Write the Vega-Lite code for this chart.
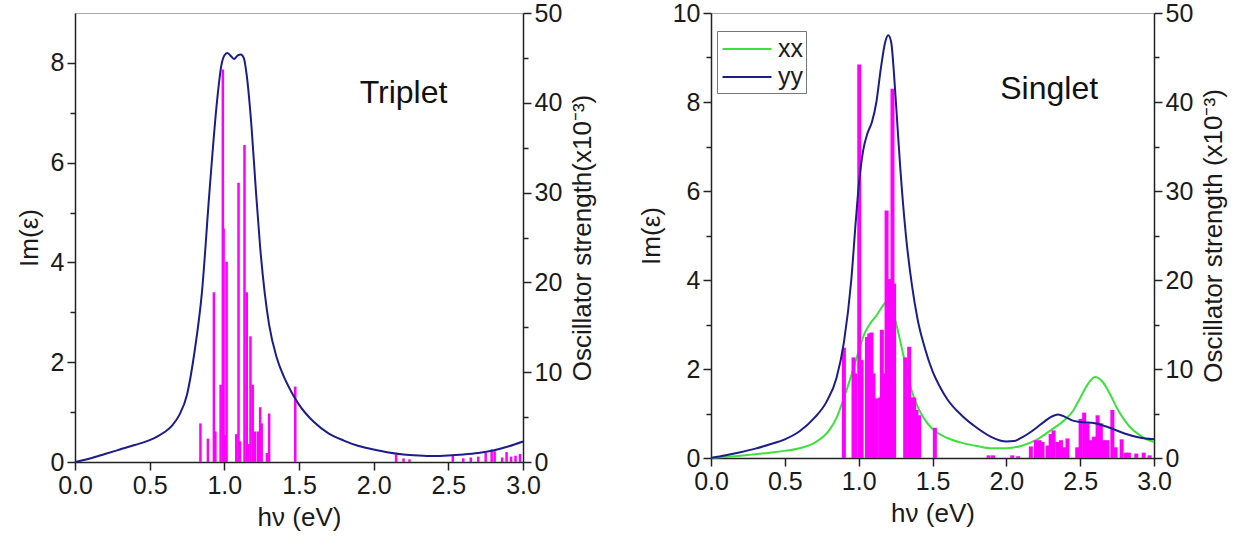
{
  "$schema": "https://vega.github.io/schema/vega-lite/v6.json",
  "background": "white",
  "padding": {"left": 15, "top": 0, "right": 5, "bottom": 5},
  "spacing": 40,
  "resolve": {"scale": {"color": "independent"}, "legend": {"color": "independent"}},
  "config": {
    "font": "Liberation Sans",
    "view": {"stroke": "#aaaaaa", "strokeWidth": 1},
    "axis": {
      "grid": false,
      "domainColor": "#222222",
      "domainWidth": 1.5,
      "tickColor": "#222222",
      "tickWidth": 1.5,
      "labelFont": "Liberation Sans",
      "labelFontSize": 25,
      "labelColor": "#1a1a1a",
      "labelPadding": 3,
      "titleFont": "Liberation Sans",
      "titleFontSize": 26,
      "titleFontWeight": "normal",
      "titleColor": "#1a1a1a"
    },
    "legend": {
      "orient": "none",
      "legendX": 6,
      "legendY": 18,
      "strokeColor": "#777777",
      "fillColor": "white",
      "padding": 3,
      "labelFont": "Liberation Sans",
      "labelFontSize": 25,
      "labelColor": "#1a1a1a",
      "symbolType": "M-1.75,0H1.75",
      "symbolStrokeWidth": 2,
      "symbolSize": 784,
      "symbolOffset": 12,
      "rowPadding": 0,
      "labelOffset": 16
    }
  },
  "datasets": {
    "trip_line": [
      {"e": 0.0, "im": 0.0}, {"e": 0.1, "im": 0.07}, {"e": 0.2, "im": 0.16}, {"e": 0.3, "im": 0.25},
      {"e": 0.4, "im": 0.34}, {"e": 0.5, "im": 0.44}, {"e": 0.55, "im": 0.51}, {"e": 0.6, "im": 0.6}, {"e": 0.65, "im": 0.73},
      {"e": 0.7, "im": 0.95}, {"e": 0.75, "im": 1.35}, {"e": 0.8, "im": 2.2}, {"e": 0.85, "im": 3.4},
      {"e": 0.9, "im": 5.4}, {"e": 0.95, "im": 7.2}, {"e": 0.98, "im": 7.95}, {"e": 1.0, "im": 8.15},
      {"e": 1.02, "im": 8.2}, {"e": 1.04, "im": 8.15}, {"e": 1.065, "im": 8.08}, {"e": 1.09, "im": 8.15},
      {"e": 1.11, "im": 8.17}, {"e": 1.13, "im": 8.1}, {"e": 1.15, "im": 7.75}, {"e": 1.18, "im": 6.8},
      {"e": 1.21, "im": 5.5}, {"e": 1.24, "im": 4.3}, {"e": 1.27, "im": 3.4}, {"e": 1.3, "im": 2.75},
      {"e": 1.35, "im": 2.1}, {"e": 1.4, "im": 1.7}, {"e": 1.45, "im": 1.4}, {"e": 1.5, "im": 1.15},
      {"e": 1.6, "im": 0.8}, {"e": 1.7, "im": 0.57}, {"e": 1.8, "im": 0.43}, {"e": 1.9, "im": 0.32},
      {"e": 2.0, "im": 0.25}, {"e": 2.1, "im": 0.19}, {"e": 2.2, "im": 0.15}, {"e": 2.3, "im": 0.13},
      {"e": 2.4, "im": 0.12}, {"e": 2.5, "im": 0.13}, {"e": 2.6, "im": 0.15}, {"e": 2.7, "im": 0.18},
      {"e": 2.8, "im": 0.23}, {"e": 2.9, "im": 0.31}, {"e": 3.0, "im": 0.41}
    ],
    "trip_bars": [
      {"e": 0.84, "f": 4.3}, {"e": 0.89, "f": 2.6}, {"e": 0.93, "f": 18.9}, {"e": 0.94, "f": 3.4},
      {"e": 0.975, "f": 8.6}, {"e": 0.99, "f": 43.7}, {"e": 0.995, "f": 26}, {"e": 1.005, "f": 3.0},
      {"e": 1.015, "f": 22.3}, {"e": 1.08, "f": 3.1}, {"e": 1.095, "f": 31.1}, {"e": 1.105, "f": 2.3},
      {"e": 1.135, "f": 35.3}, {"e": 1.15, "f": 18.9}, {"e": 1.16, "f": 2.0}, {"e": 1.175, "f": 14.0},
      {"e": 1.19, "f": 8.6}, {"e": 1.205, "f": 3.4}, {"e": 1.225, "f": 3.4}, {"e": 1.24, "f": 6.1},
      {"e": 1.25, "f": 4.3}, {"e": 1.285, "f": 1.0}, {"e": 1.3, "f": 5.4}, {"e": 1.475, "f": 8.4},
      {"e": 2.15, "f": 0.8}, {"e": 2.2, "f": 0.4}, {"e": 2.24, "f": 0.3}, {"e": 2.53, "f": 0.8},
      {"e": 2.6, "f": 0.4}, {"e": 2.65, "f": 0.5}, {"e": 2.7, "f": 0.6}, {"e": 2.75, "f": 1.0},
      {"e": 2.79, "f": 1.4}, {"e": 2.81, "f": 1.2}, {"e": 2.86, "f": 0.5}, {"e": 2.89, "f": 1.1},
      {"e": 2.92, "f": 0.6}, {"e": 2.95, "f": 0.7}, {"e": 2.98, "f": 0.9}
    ],
    "sing_xx": [
      {"e": 0.0, "im": 0.0, "s": "xx"}, {"e": 0.2, "im": 0.05, "s": "xx"}, {"e": 0.4, "im": 0.12, "s": "xx"},
      {"e": 0.5, "im": 0.16, "s": "xx"}, {"e": 0.6, "im": 0.22, "s": "xx"}, {"e": 0.7, "im": 0.34, "s": "xx"},
      {"e": 0.8, "im": 0.62, "s": "xx"}, {"e": 0.85, "im": 0.9, "s": "xx"}, {"e": 0.9, "im": 1.35, "s": "xx"},
      {"e": 0.95, "im": 1.85, "s": "xx"}, {"e": 1.0, "im": 2.4, "s": "xx"}, {"e": 1.04, "im": 2.8, "s": "xx"},
      {"e": 1.08, "im": 3.03, "s": "xx"}, {"e": 1.12, "im": 3.2, "s": "xx"}, {"e": 1.16, "im": 3.4, "s": "xx"},
      {"e": 1.2, "im": 3.55, "s": "xx"}, {"e": 1.24, "im": 3.2, "s": "xx"}, {"e": 1.28, "im": 2.65, "s": "xx"},
      {"e": 1.32, "im": 2.05, "s": "xx"}, {"e": 1.36, "im": 1.5, "s": "xx"}, {"e": 1.4, "im": 1.15, "s": "xx"},
      {"e": 1.45, "im": 0.85, "s": "xx"}, {"e": 1.5, "im": 0.65, "s": "xx"}, {"e": 1.6, "im": 0.45, "s": "xx"},
      {"e": 1.7, "im": 0.34, "s": "xx"}, {"e": 1.8, "im": 0.27, "s": "xx"}, {"e": 1.9, "im": 0.22, "s": "xx"},
      {"e": 2.0, "im": 0.22, "s": "xx"}, {"e": 2.1, "im": 0.27, "s": "xx"}, {"e": 2.2, "im": 0.4, "s": "xx"},
      {"e": 2.3, "im": 0.62, "s": "xx"}, {"e": 2.4, "im": 0.87, "s": "xx"}, {"e": 2.45, "im": 1.05, "s": "xx"},
      {"e": 2.5, "im": 1.35, "s": "xx"}, {"e": 2.55, "im": 1.65, "s": "xx"}, {"e": 2.6, "im": 1.82, "s": "xx"},
      {"e": 2.65, "im": 1.72, "s": "xx"}, {"e": 2.7, "im": 1.45, "s": "xx"}, {"e": 2.75, "im": 1.12, "s": "xx"},
      {"e": 2.8, "im": 0.85, "s": "xx"}, {"e": 2.85, "im": 0.65, "s": "xx"}, {"e": 2.9, "im": 0.52, "s": "xx"},
      {"e": 2.95, "im": 0.42, "s": "xx"}, {"e": 3.0, "im": 0.36, "s": "xx"}
    ],
    "sing_yy": [
      {"e": 0.0, "im": 0.0, "s": "yy"}, {"e": 0.1, "im": 0.06, "s": "yy"}, {"e": 0.2, "im": 0.13, "s": "yy"},
      {"e": 0.3, "im": 0.21, "s": "yy"}, {"e": 0.4, "im": 0.31, "s": "yy"}, {"e": 0.5, "im": 0.42, "s": "yy"},
      {"e": 0.6, "im": 0.6, "s": "yy"}, {"e": 0.7, "im": 0.9, "s": "yy"}, {"e": 0.78, "im": 1.25, "s": "yy"},
      {"e": 0.85, "im": 1.8, "s": "yy"}, {"e": 0.9, "im": 2.6, "s": "yy"}, {"e": 0.95, "im": 4.0, "s": "yy"},
      {"e": 0.98, "im": 5.3, "s": "yy"}, {"e": 1.0, "im": 6.1, "s": "yy"}, {"e": 1.03, "im": 6.9, "s": "yy"},
      {"e": 1.06, "im": 7.3, "s": "yy"}, {"e": 1.09, "im": 7.55, "s": "yy"}, {"e": 1.12, "im": 8.0, "s": "yy"},
      {"e": 1.15, "im": 8.75, "s": "yy"}, {"e": 1.18, "im": 9.35, "s": "yy"}, {"e": 1.2, "im": 9.5, "s": "yy"},
      {"e": 1.22, "im": 9.35, "s": "yy"}, {"e": 1.24, "im": 8.6, "s": "yy"}, {"e": 1.26, "im": 7.6, "s": "yy"},
      {"e": 1.28, "im": 6.6, "s": "yy"}, {"e": 1.32, "im": 5.0, "s": "yy"}, {"e": 1.36, "im": 3.9, "s": "yy"},
      {"e": 1.4, "im": 3.1, "s": "yy"}, {"e": 1.45, "im": 2.45, "s": "yy"}, {"e": 1.5, "im": 1.95, "s": "yy"},
      {"e": 1.55, "im": 1.6, "s": "yy"}, {"e": 1.6, "im": 1.32, "s": "yy"}, {"e": 1.7, "im": 0.95, "s": "yy"}, {"e": 1.8, "im": 0.68, "s": "yy"},
      {"e": 1.9, "im": 0.47, "s": "yy"}, {"e": 2.0, "im": 0.37, "s": "yy"}, {"e": 2.05, "im": 0.38, "s": "yy"},
      {"e": 2.1, "im": 0.45, "s": "yy"}, {"e": 2.15, "im": 0.55, "s": "yy"}, {"e": 2.2, "im": 0.67, "s": "yy"},
      {"e": 2.25, "im": 0.8, "s": "yy"}, {"e": 2.3, "im": 0.92, "s": "yy"}, {"e": 2.35, "im": 0.98, "s": "yy"},
      {"e": 2.4, "im": 0.92, "s": "yy"}, {"e": 2.45, "im": 0.84, "s": "yy"}, {"e": 2.5, "im": 0.81, "s": "yy"},
      {"e": 2.6, "im": 0.78, "s": "yy"}, {"e": 2.7, "im": 0.68, "s": "yy"}, {"e": 2.8, "im": 0.55, "s": "yy"},
      {"e": 2.9, "im": 0.46, "s": "yy"}, {"e": 3.0, "im": 0.42, "s": "yy"}
    ],
    "sing_bars": [
      {"e": 0.9, "f": 12.4}, {"e": 0.965, "f": 11.3}, {"e": 0.975, "f": 9.5}, {"e": 1.004, "f": 44.2},
      {"e": 1.02, "f": 11}, {"e": 1.056, "f": 13.6}, {"e": 1.072, "f": 14.0}, {"e": 1.087, "f": 14.1},
      {"e": 1.1, "f": 9.5}, {"e": 1.117, "f": 6.7}, {"e": 1.145, "f": 6.8}, {"e": 1.157, "f": 14.4},
      {"e": 1.17, "f": 9.5}, {"e": 1.189, "f": 27.8}, {"e": 1.205, "f": 20.1}, {"e": 1.218, "f": 20},
      {"e": 1.229, "f": 41.5}, {"e": 1.24, "f": 19.6}, {"e": 1.315, "f": 11.3}, {"e": 1.342, "f": 12.5},
      {"e": 1.358, "f": 6.8}, {"e": 1.376, "f": 6.8}, {"e": 1.392, "f": 5.4}, {"e": 1.41, "f": 4.8},
      {"e": 1.516, "f": 3.4}, {"e": 1.88, "f": 0.3}, {"e": 1.91, "f": 0.3}, {"e": 2.04, "f": 0.3},
      {"e": 2.08, "f": 0.2}, {"e": 2.166, "f": 1.3}, {"e": 2.2, "f": 2.0}, {"e": 2.225, "f": 2.0},
      {"e": 2.245, "f": 1.8}, {"e": 2.28, "f": 1.4}, {"e": 2.3, "f": 2.7}, {"e": 2.32, "f": 3.1},
      {"e": 2.346, "f": 1.8}, {"e": 2.37, "f": 2.0}, {"e": 2.39, "f": 1.2}, {"e": 2.414, "f": 2.2},
      {"e": 2.48, "f": 1.2}, {"e": 2.503, "f": 4.4}, {"e": 2.527, "f": 5.1}, {"e": 2.55, "f": 3.9},
      {"e": 2.572, "f": 2.0}, {"e": 2.594, "f": 2.4}, {"e": 2.618, "f": 4.8}, {"e": 2.64, "f": 3.9},
      {"e": 2.662, "f": 2.0}, {"e": 2.684, "f": 2.0}, {"e": 2.718, "f": 5.4}, {"e": 2.74, "f": 1.2},
      {"e": 2.781, "f": 2.1}, {"e": 2.81, "f": 0.6}, {"e": 2.83, "f": 0.6}, {"e": 2.88, "f": 0.5},
      {"e": 2.93, "f": 0.6}, {"e": 2.97, "f": 0.3}
    ]
  },
  "hconcat": [
    {
      "width": 448,
      "height": 449,
      "resolve": {"scale": {"y": "independent"}},
      "layer": [
        {
          "data": {"name": "trip_bars"},
          "mark": {"type": "rule", "color": "#ff00ff", "strokeWidth": 2.5},
          "encoding": {
            "x": {
              "field": "e", "type": "quantitative",
              "scale": {"domain": [0, 3], "nice": false},
              "axis": {
                "title": "hν (eV)",
                "values": [0, 0.25, 0.5, 0.75, 1, 1.25, 1.5, 1.75, 2, 2.25, 2.5, 2.75, 3],
                "labelExpr": "abs(datum.value*2 - round(datum.value*2)) < 0.01 ? format(datum.value, '.1f') : ''",
                "tickSize": {"condition": {"test": "abs(datum.value*2 - round(datum.value*2)) < 0.01", "value": 8}, "value": 5},
                "labelFlush": false,
                "titlePadding": 6
              }
            },
            "y": {
              "field": "f", "type": "quantitative",
              "scale": {"domain": [0, 50], "nice": false},
              "axis": {
                "title": "Oscillator strength(x10⁻³)",
                "orient": "right",
                "values": [0, 5, 10, 15, 20, 25, 30, 35, 40, 45, 50],
                "labelExpr": "datum.value % 10 === 0 ? datum.value : ''",
                "tickSize": {"condition": {"test": "datum.value % 10 === 0", "value": 8}, "value": 5},
                "titleAngle": 270,
                "titleBaseline": "top",
                "titlePadding": 8
              }
            },
            "y2": {"datum": 0}
          }
        },
        {
          "data": {"name": "trip_line"},
          "mark": {"type": "line", "color": "#1c1c8a", "strokeWidth": 2, "interpolate": "monotone"},
          "encoding": {
            "x": {"field": "e", "type": "quantitative"},
            "y": {
              "field": "im", "type": "quantitative",
              "scale": {"domain": [0, 9], "nice": false},
              "axis": {
                "title": "Im(ε)",
                "orient": "left",
                "values": [0, 1, 2, 3, 4, 5, 6, 7, 8],
                "labelExpr": "datum.value % 2 === 0 ? datum.value : ''",
                "tickSize": {"condition": {"test": "datum.value % 2 === 0", "value": 8}, "value": 5},
                "titlePadding": 8
              }
            }
          }
        },
        {
          "data": {"values": [{"e": 2.2, "im": 7.4, "t": "Triplet"}]},
          "mark": {"type": "text", "fontSize": 32, "font": "Liberation Sans", "color": "#111111"},
          "encoding": {
            "x": {"field": "e", "type": "quantitative"},
            "y": {"field": "im", "type": "quantitative", "scale": {"domain": [0, 9], "nice": false}, "axis": null},
            "text": {"field": "t"}
          }
        }
      ]
    },
    {
      "width": 443,
      "height": 445,
      "resolve": {"scale": {"y": "independent"}},
      "layer": [
        {
          "data": {"name": "sing_xx"},
          "mark": {"type": "line", "strokeWidth": 2, "interpolate": "monotone"},
          "encoding": {
            "x": {
              "field": "e", "type": "quantitative",
              "scale": {"domain": [0, 3], "nice": false},
              "axis": {
                "title": "hν (eV)",
                "values": [0, 0.25, 0.5, 0.75, 1, 1.25, 1.5, 1.75, 2, 2.25, 2.5, 2.75, 3],
                "labelExpr": "abs(datum.value*2 - round(datum.value*2)) < 0.01 ? format(datum.value, '.1f') : ''",
                "tickSize": {"condition": {"test": "abs(datum.value*2 - round(datum.value*2)) < 0.01", "value": 8}, "value": 5},
                "labelFlush": false,
                "titlePadding": 6
              }
            },
            "y": {
              "field": "im", "type": "quantitative",
              "scale": {"domain": [0, 10], "nice": false},
              "axis": {
                "title": "Im(ε)",
                "orient": "left",
                "values": [0, 1, 2, 3, 4, 5, 6, 7, 8, 9, 10],
                "labelExpr": "datum.value % 2 === 0 ? datum.value : ''",
                "tickSize": {"condition": {"test": "datum.value % 2 === 0", "value": 8}, "value": 5},
                "titlePadding": 8
              }
            },
            "color": {
              "field": "s", "type": "nominal",
              "scale": {"domain": ["xx", "yy"], "range": ["#3ee03e", "#1c1c8a"]},
              "legend": {"title": null}
            }
          }
        },
        {
          "data": {"name": "sing_bars"},
          "mark": {"type": "rule", "color": "#ff00ff", "strokeWidth": 4},
          "encoding": {
            "x": {"field": "e", "type": "quantitative"},
            "y": {
              "field": "f", "type": "quantitative",
              "scale": {"domain": [0, 50], "nice": false},
              "axis": {
                "title": "Oscillator strength (x10⁻³)",
                "orient": "right",
                "values": [0, 5, 10, 15, 20, 25, 30, 35, 40, 45, 50],
                "labelExpr": "datum.value % 10 === 0 ? datum.value : ''",
                "tickSize": {"condition": {"test": "datum.value % 10 === 0", "value": 8}, "value": 5},
                "titleAngle": 270,
                "titleBaseline": "top",
                "titlePadding": 8
              }
            },
            "y2": {"datum": 0}
          }
        },
        {
          "data": {"name": "sing_yy"},
          "mark": {"type": "line", "strokeWidth": 2, "interpolate": "monotone"},
          "encoding": {
            "x": {"field": "e", "type": "quantitative"},
            "y": {"field": "im", "type": "quantitative", "scale": {"domain": [0, 10], "nice": false}, "axis": null},
            "color": {"field": "s", "type": "nominal"}
          }
        },
        {
          "data": {"values": [{"e": 2.29, "im": 8.3, "t": "Singlet"}]},
          "mark": {"type": "text", "fontSize": 32, "font": "Liberation Sans", "color": "#111111"},
          "encoding": {
            "x": {"field": "e", "type": "quantitative"},
            "y": {"field": "im", "type": "quantitative", "scale": {"domain": [0, 10], "nice": false}, "axis": null},
            "text": {"field": "t"}
          }
        }
      ]
    }
  ]
}
